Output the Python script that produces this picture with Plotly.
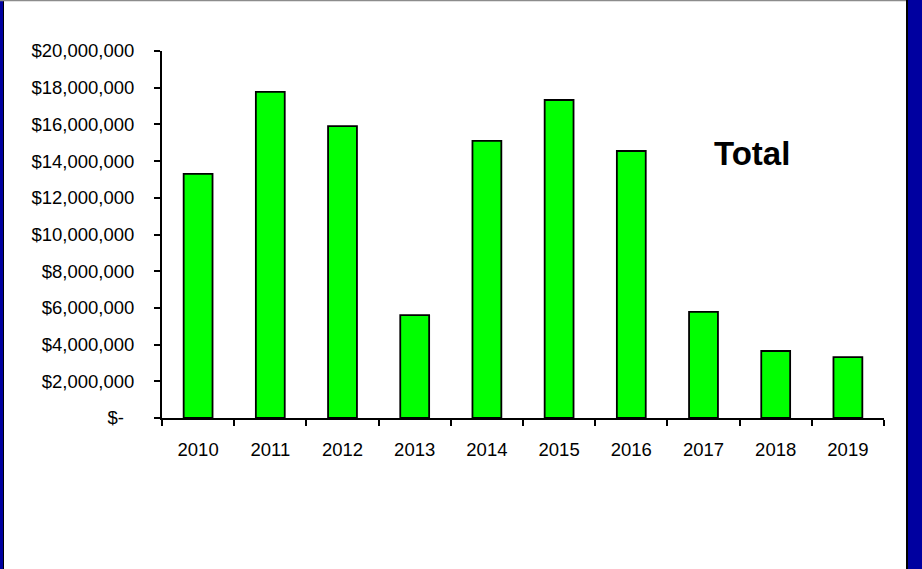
import plotly.graph_objects as go

# Annual totals
years = ["2010", "2011", "2012", "2013", "2014", "2015", "2016", "2017", "2018", "2019"]
totals = [13300000, 17770000, 15910000, 5610000, 15100000, 17330000, 14550000, 5780000, 3650000, 3320000]

# Y axis ticks in accounting style
y_tickvals = [0, 2000000, 4000000, 6000000, 8000000, 10000000, 12000000, 14000000, 16000000, 18000000, 20000000]
y_ticktext = ["$-\u00a0\u00a0"] + ["${:,.0f}".format(v) for v in y_tickvals[1:]]

W, H = 922, 569
ML, MR, MT, MB = 162, 38, 51, 151
PW, PH = W - ML - MR, H - MT - MB


def px_x(p):
    return (p - ML) / PW


def px_y(p):
    return (H - MB - p) / PH


FONT = "Liberation Sans, Arial, sans-serif"
TICK_SIZE = 18.5

fig = go.Figure(
    go.Bar(
        x=years,
        y=totals,
        width=0.4,
        marker=dict(color="#00FF00", line=dict(color="#000000", width=1.8)),
        hoverinfo="x+y",
    )
)

shapes = [
    # left frame edge
    dict(type="rect", xref="paper", yref="paper", x0=px_x(0), x1=px_x(3), y0=px_y(0), y1=px_y(H),
         fillcolor="#0000A0", line=dict(width=0), layer="above"),
    dict(type="line", xref="paper", yref="paper", x0=px_x(3.5), x1=px_x(3.5), y0=px_y(0), y1=px_y(H),
         line=dict(color="#000000", width=1), layer="above"),
    # top frame edge
    dict(type="line", xref="paper", yref="paper", x0=px_x(0), x1=px_x(907), y0=px_y(0.5), y1=px_y(0.5),
         line=dict(color="#8C8C8C", width=1.5), layer="above"),
    # right frame edge
    dict(type="rect", xref="paper", yref="paper", x0=px_x(908), x1=px_x(W), y0=px_y(0), y1=px_y(H),
         fillcolor="#0000A0", line=dict(width=0), layer="above"),
    dict(type="line", xref="paper", yref="paper", x0=px_x(907), x1=px_x(907), y0=px_y(0), y1=px_y(H),
         line=dict(color="#000000", width=2), layer="above"),
]

fig.update_layout(
    width=W,
    height=H,
    margin=dict(l=ML, r=MR, t=MT, b=MB, pad=0),
    paper_bgcolor="#FFFFFF",
    plot_bgcolor="#FFFFFF",
    showlegend=False,
    bargap=0.6,
    font=dict(family=FONT, size=TICK_SIZE, color="#000000"),
    shapes=shapes,
    annotations=[
        dict(text="<b>Total</b>", xref="paper", yref="paper", x=px_x(751.5), y=px_y(153.5),
             xanchor="center", yanchor="middle", showarrow=False,
             font=dict(family=FONT, size=33, color="#000000")),
    ],
    xaxis=dict(
        type="category",
        showline=True, linecolor="#000000", linewidth=2,
        ticks="outside", tickson="boundaries", ticklen=6, tickwidth=2, tickcolor="#000000",
        showgrid=False, zeroline=False,
        ticklabelstandoff=14,
        tickfont=dict(family=FONT, size=TICK_SIZE),
    ),
    yaxis=dict(
        range=[0, 20000000],
        tickvals=y_tickvals,
        ticktext=y_ticktext,
        showline=True, linecolor="#000000", linewidth=2,
        ticks="outside", ticklen=6, tickwidth=2, tickcolor="#000000",
        showgrid=False, zeroline=False,
        ticklabelstandoff=16,
        tickfont=dict(family=FONT, size=TICK_SIZE),
    ),
)

fig.write_html("out.html")
